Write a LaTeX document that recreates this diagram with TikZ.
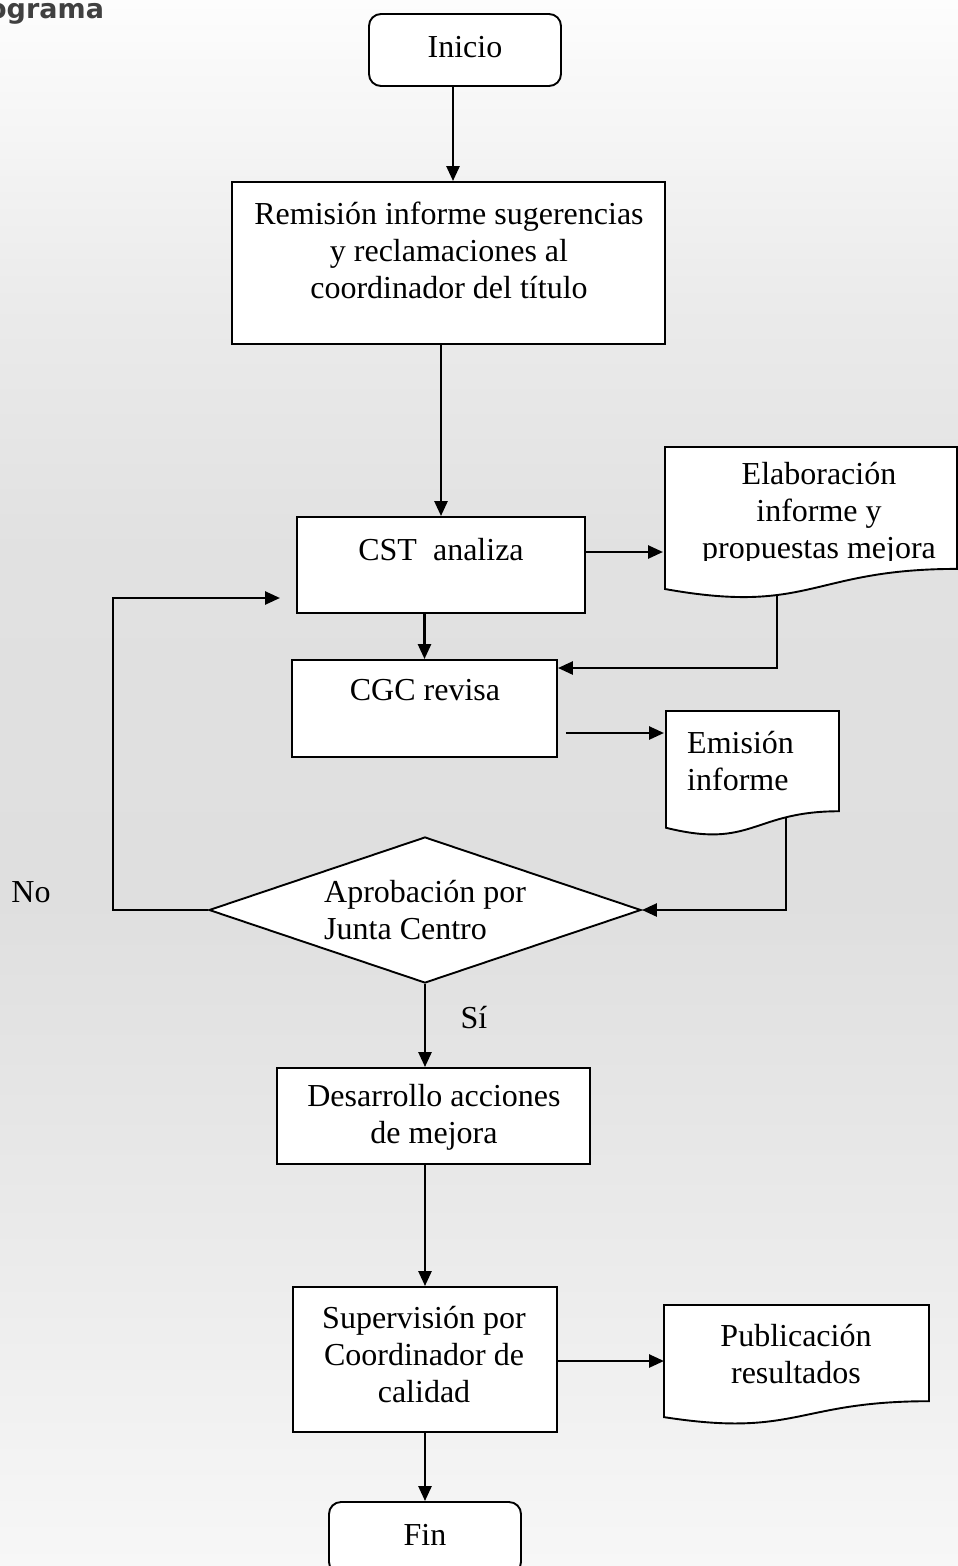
\documentclass[tikz,border=0pt]{standalone}
\usepackage{fontspec}
\setmainfont{Liberation Serif}
\newfontfamily\headfont{DejaVu Sans}
\usetikzlibrary{arrows.meta,shapes.geometric}
\definecolor{bgA}{HTML}{F7F7F7}
\definecolor{bgB}{HTML}{E9E9E9}
\definecolor{bgC}{HTML}{DFDFDF}
\definecolor{bgD}{HTML}{E1E1E1}
\definecolor{bgE}{HTML}{EBEBEB}
\definecolor{bgF}{HTML}{FDFDFD}
\definecolor{headgray}{HTML}{404040}
\pgfdeclareverticalshading{bgshade}{100bp}{color(0bp)=(bgA); color(25bp)=(bgA); color(36.7bp)=(bgB); color(46.3bp)=(bgC); color(57.4bp)=(bgD); color(65.4bp)=(bgE); color(75bp)=(bgF); color(100bp)=(bgF)}
\begin{document}
\begin{tikzpicture}[x=1pt,y=-1pt,
  box/.style={draw,line width=1.9pt,fill=white,inner sep=0pt,rectangle},
  roundbox/.style={box,rounded corners=12pt},
  decision/.style={draw,line width=1.9pt,fill=white,inner sep=0pt,diamond},
  docshape/.style={draw,line width=1.9pt,fill=white},
  txt/.style={font=\fontsize{32}{37}\selectfont,align=center,inner sep=0pt},
  ltxt/.style={font=\fontsize{32}{37}\selectfont,align=left,inner sep=0pt,anchor=west},
  arr/.style={line width=2.6pt,-{Triangle[length=15pt,width=13pt]}}]
\useasboundingbox (0,0) rectangle (958,1566);
\clip (0,0) rectangle (958,1566);
\shade[shading=bgshade] (0,0) rectangle (958,1566);

\node[anchor=base west,inner sep=0pt,font=\headfont\bfseries\fontsize{27}{30}\selectfont,text=headgray] (head) at (-12,18) {ograma};

% boxes
\node[roundbox,minimum width=192pt,minimum height=72pt] (ini) at (465,50) {};
\node[box,minimum width=433pt,minimum height=162pt] (rem) at (448.5,263) {};
\node[box,minimum width=288pt,minimum height=96pt] (cst) at (441,565) {};
\node[box,minimum width=265pt,minimum height=97pt] (cgc) at (424.5,708.5) {};
\node[decision,minimum width=432pt,minimum height=146pt] (dia) at (425,910) {};
\node[box,minimum width=313pt,minimum height=96pt] (des) at (433.5,1116) {};
\node[box,minimum width=264pt,minimum height=145pt] (sup) at (425,1359.5) {};
\node[roundbox,minimum width=192pt,minimum height=72pt] (fin) at (425,1538) {};

% documents
\draw[docshape] (665,447) -- (957,447) -- (957,568.9) .. controls (811,568.9) and (811,615.3) .. (665,589) -- cycle;
\draw[docshape] (666,711) -- (839,711) -- (839,811.25) .. controls (752.5,811.25) and (752.5,849.4) .. (666,827.75) -- cycle;
\draw[docshape] (664,1305) -- (929,1305) -- (929,1401.2) .. controls (796.5,1401.2) and (796.5,1437.8) .. (664,1417.1) -- cycle;
\coordinate (elabW) at (665,552);
\coordinate (elabS) at (777,595);
\coordinate (emiW) at (666,733);
\coordinate (emiS) at (786,817);
\coordinate (pubW) at (664,1361);

% texts
\node[txt] (tini) at (465,47) {Inicio};
\node[txt] (trem) at (449,250) {Remisión informe sugerencias\\y reclamaciones al\\coordinador del título};
\node[txt] (tcst) at (441,550) {CST\ \ analiza};
\node[txt] (tcgc) at (425,690) {CGC revisa};
\begin{scope}
\clip (665,447) rectangle (957,560);
\node[txt] (telab) at (819,514) {Elaboración\\informe y\\propuestas mejora};
\end{scope}
\node[ltxt] (temi) at (687,761) {Emisión\\informe};
\node[ltxt] (tapr) at (324,910) {Aprobación por\\Junta Centro};
\node[txt] (tno) at (31,892) {No};
\node[txt] (tsi) at (474,1018) {Sí};
\node[txt] (tdes) at (434,1117) {Desarrollo acciones\\de mejora};
\node[txt] (tsup) at (424,1355) {Supervisión por\\Coordinador de\\calidad};
\node[txt] (tpub) at (796,1354) {Publicación\\resultados};
\node[txt] (tfin) at (425,1535) {Fin};

% connectors
\coordinate (a1) at (453,100);
\coordinate (a2) at (441,400);
\coordinate (b4) at (777,668);
\coordinate (c7) at (786,910);
\coordinate (lp) at (113,598);
\coordinate (lpe) at (280,598);
\draw[arr] (ini.south -| a1) -- (rem.north -| a1);
\draw[arr] (rem.south -| a2) -- (cst.north -| a2);
\draw[arr] (cst.east |- elabW) -- ([xshift=-2pt]elabW);
\draw[arr] (elabS) -- (b4) -- (cgc.east |- b4);
\draw[arr] (cst.south -| cgc.north) -- (cgc.north);
\draw[arr] ([xshift=8pt]cgc.east |- emiW) -- ([xshift=-2pt]emiW);
\draw[arr] (emiS) -- (c7) -- (dia.east);
\draw[arr] (dia.west) -| (lp) -- (lpe);
\draw[arr] (dia.south) -- (des.north -| dia.south);
\draw[arr] (des.south -| sup.north) -- (sup.north);
\draw[arr] (sup.east |- pubW) -- (pubW);
\draw[arr] (sup.south) -- (fin.north);
\end{tikzpicture}
\end{document}
